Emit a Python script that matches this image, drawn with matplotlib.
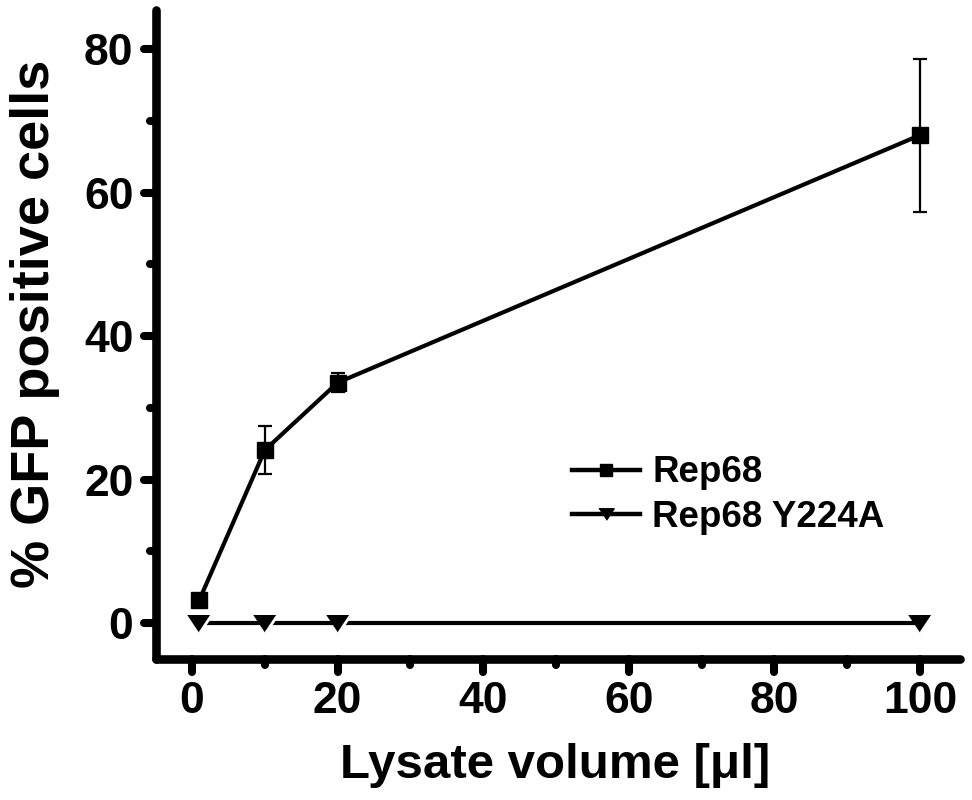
import matplotlib
matplotlib.use("Agg")
import matplotlib.pyplot as plt
from matplotlib.markers import MarkerStyle
import matplotlib.markers as mmarkers
from matplotlib.ticker import MultipleLocator
from matplotlib.lines import Line2D

plt.rcParams['font.family'] = ['Liberation Sans', 'DejaVu Sans']
plt.rcParams['font.weight'] = 'bold'

volumes = [1, 10, 20, 100]
rep68 = [3.2, 24.1, 33.5, 68.0]
rep68_err = [0.8, 3.35, 1.3, 10.65]
y224a = [0.0, 0.0, 0.0, 0.0]
labels = ['Rep68', 'Rep68 Y224A']

tri = [(-1, 0.75), (1, 0.75), (0, -0.75)]

fig = plt.figure(figsize=(9.72, 8.0), dpi=100)
ax = fig.add_axes([0.1601, 0.1764, 0.8276, 0.8116])

ax.errorbar(volumes, rep68, yerr=rep68_err, color='black', lw=3, marker='s',
            ms=11.5, capsize=5, elinewidth=1.6, capthick=1.6, zorder=3)
ax.plot(volumes, y224a, color='black', lw=3, marker=tri, ms=19,
        mfc='black', mec='white', mew=2, zorder=3)

ax.set_xlim(-5, 105.5)
ax.set_ylim(-5, 85.5)
ax.xaxis.set_major_locator(MultipleLocator(20))
ax.xaxis.set_minor_locator(MultipleLocator(10))
ax.yaxis.set_major_locator(MultipleLocator(20))
ax.yaxis.set_minor_locator(MultipleLocator(10))

for s in ['top', 'right']:
    ax.spines[s].set_visible(False)
for s in ['left', 'bottom']:
    ax.spines[s].set_linewidth(6.2)
    ax.spines[s].set_capstyle('round')

ax.tick_params(which='major', direction='out', length=9, width=5.8, labelsize=32, pad=7)
ax.tick_params(which='minor', direction='out', length=4.5, width=5.8)

fig.canvas.draw()
for axis, tick_m in [(ax.xaxis, mmarkers.TICKDOWN), (ax.yaxis, mmarkers.TICKLEFT)]:
    for t in axis.get_major_ticks() + axis.get_minor_ticks():
        t.tick1line.set_marker(MarkerStyle(tick_m, capstyle='round'))

ax.set_xlabel('Lysate volume [μl]', fontsize=35.5, fontweight='bold')
ax.xaxis.label.set_va('baseline')
ax.xaxis.set_label_coords(0.497, -0.1835)
ax.set_ylabel('% GFP positive cells', fontsize=39, fontweight='bold')
ax.yaxis.label.set_va('center')
ax.yaxis.set_label_coords(-0.150, 0.516)

handles = [
    Line2D([], [], color='black', lw=3.2, marker='s', ms=8),
    Line2D([], [], color='black', lw=3.2, marker=tri, ms=11),
]
ax.legend(handles, labels, loc='center left', bbox_to_anchor=(0.517, 0.252),
          frameon=False, fontsize=26.5, handlelength=1.85, labelspacing=0.26,
          handletextpad=0.35, borderpad=0, borderaxespad=0)

fig.savefig('out.png', dpi=100)
